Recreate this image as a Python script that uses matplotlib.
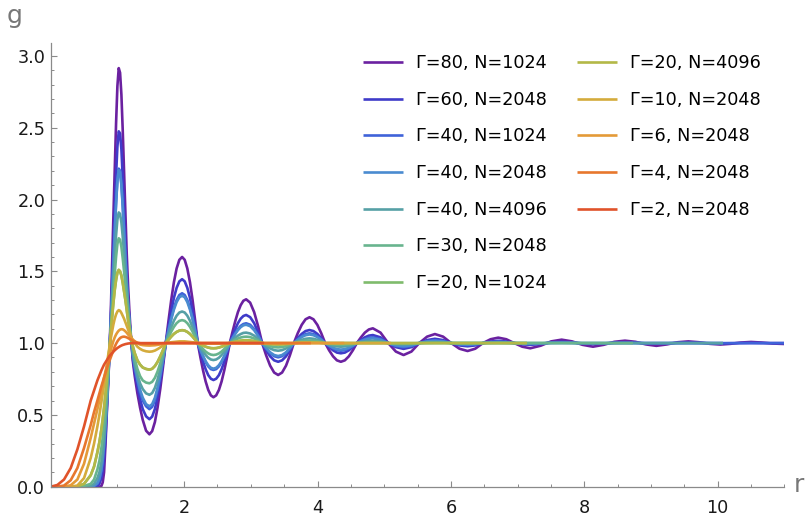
import matplotlib
matplotlib.use("Agg")
import matplotlib.pyplot as plt
from matplotlib.lines import Line2D
from matplotlib.ticker import MultipleLocator, FormatStrFormatter

plt.rcParams['font.family'] = ['DejaVu Sans']

# r grid shared by every curve (each curve uses a prefix of it)
r_grid = [0, 0.1, 0.2, 0.3, 0.4, 0.5, 0.6, 0.65, 0.7, 0.73,
          0.76, 0.78, 0.8, 0.82, 0.84, 0.86, 0.88, 0.9, 0.92, 0.94,
          0.96, 0.98, 1.0, 1.02, 1.04, 1.06, 1.08, 1.1, 1.12, 1.14,
          1.16, 1.18, 1.2, 1.23, 1.26, 1.3, 1.34, 1.38, 1.43, 1.48,
          1.521, 1.562, 1.602, 1.643, 1.684, 1.725, 1.766, 1.807, 1.847, 1.888, 1.929, 1.97,
          2.009, 2.048, 2.088, 2.127, 2.166, 2.205, 2.244, 2.283, 2.323, 2.362, 2.401, 2.44,
          2.481, 2.522, 2.562, 2.603, 2.644, 2.685, 2.726, 2.767, 2.807, 2.848, 2.889, 2.93,
          2.99, 3.05, 3.11, 3.17, 3.23, 3.29, 3.35, 3.41,
          3.469, 3.528, 3.586, 3.645, 3.704, 3.763, 3.821, 3.88,
          3.939, 3.998, 4.056, 4.115, 4.174, 4.233, 4.291, 4.35,
          4.41, 4.47, 4.53, 4.59, 4.65, 4.71, 4.77, 4.83,
          4.945, 5.06, 5.175, 5.29, 5.408, 5.525, 5.643, 5.76,
          5.883, 6.005, 6.128, 6.25, 6.365, 6.48, 6.595, 6.71,
          6.83, 6.95, 7.07, 7.19,
          7.347, 7.503, 7.66, 7.817, 7.973, 8.13, 8.29, 8.45, 8.61,
          8.767, 8.923, 9.08, 9.24, 9.40, 9.56, 9.72, 9.88, 10.04,
          10.193, 10.347, 10.5, 10.66, 10.82, 11.0]

g80 = [0, 0, 0, 0, 0, 0, 0, 0, 0, 0,
       0.005, 0.03, 0.1, 0.28, 0.5, 0.7, 0.92, 1.2, 1.55, 1.88,
       2.2, 2.53, 2.79, 2.915, 2.883, 2.73, 2.48, 2.19, 1.89, 1.62,
       1.4, 1.22, 1.07, 0.88, 0.77, 0.65, 0.55, 0.465, 0.39, 0.365,
       0.387, 0.45, 0.551, 0.683, 0.836, 1.0, 1.155, 1.3, 1.424, 1.52, 1.58, 1.6,
       1.58, 1.52, 1.424, 1.3, 1.155, 1.0, 0.902, 0.812, 0.733, 0.674, 0.636, 0.623,
       0.636, 0.674, 0.733, 0.812, 0.902, 1.0, 1.079, 1.153, 1.216, 1.264, 1.295, 1.305,
       1.282, 1.216, 1.117, 1.0, 0.915, 0.843, 0.795, 0.778,
       0.795, 0.843, 0.915, 1.0, 1.069, 1.127, 1.166, 1.18,
       1.166, 1.127, 1.069, 1.0, 0.95, 0.908, 0.88, 0.87,
       0.88, 0.908, 0.95, 1.0, 1.039, 1.073, 1.095, 1.103,
       1.073, 1.0, 0.941, 0.917, 0.941, 1.0, 1.045, 1.063,
       1.045, 1.0, 0.961, 0.945, 0.961, 1.0, 1.027, 1.038,
       1.027, 1.0, 0.975, 0.964,
       0.982, 1.012, 1.024, 1.012, 0.988, 0.975, 0.988, 1.009, 1.017,
       1.009, 0.991, 0.981, 0.991, 1.006, 1.012, 1.006, 0.995, 0.99,
       0.995, 1.004, 1.008, 1.004, 0.997, 0.994]

g60 = [0, 0, 0, 0, 0, 0, 0, 0, 0.005, 0.02,
       0.06, 0.11, 0.2, 0.33, 0.52, 0.72, 0.92, 1.15, 1.4, 1.67,
       1.93, 2.17, 2.37, 2.475, 2.46, 2.35, 2.15, 1.92, 1.68, 1.47,
       1.3, 1.16, 1.05, 0.9, 0.8, 0.7, 0.61, 0.54, 0.49, 0.47,
       0.488, 0.541, 0.625, 0.735, 0.863, 1.0, 1.115, 1.223, 1.315, 1.385, 1.43, 1.445,
       1.43, 1.385, 1.315, 1.223, 1.115, 1.0, 0.933, 0.872, 0.818, 0.777, 0.752, 0.743,
       0.752, 0.777, 0.818, 0.872, 0.933, 1.0, 1.051, 1.098, 1.139, 1.17, 1.189, 1.196,
       1.181, 1.139, 1.075, 1.0, 0.95, 0.908, 0.88, 0.87,
       0.88, 0.908, 0.95, 1.0, 1.035, 1.064, 1.084, 1.091,
       1.084, 1.064, 1.035, 1.0, 0.973, 0.95, 0.934, 0.929,
       0.934, 0.95, 0.973, 1.0, 1.021, 1.04, 1.052, 1.056,
       1.04, 1.0, 0.972, 0.96, 0.972, 1.0, 1.021, 1.03,
       1.021, 1.0, 0.984, 0.978, 0.984, 1.0, 1.011, 1.016,
       1.011, 1.0, 0.992, 0.988,
       0.994, 1.005, 1.009, 1.005, 0.997, 0.993, 0.997, 1.003, 1.005,
       1.003, 0.998, 0.996, 0.998, 1.002, 1.003, 1.002, 0.999, 0.998,
       0.999, 1.0, 1.001, 1.0, 1.0, 1.0]

g40_1024 = [0, 0, 0, 0, 0, 0, 0, 0.005, 0.02, 0.05,
            0.11, 0.18, 0.28, 0.41, 0.56, 0.74, 0.93, 1.13, 1.35, 1.57,
            1.78, 1.98, 2.14, 2.215, 2.2, 2.11, 1.96, 1.78, 1.6, 1.43,
            1.28, 1.15, 1.05, 0.92, 0.83, 0.74, 0.66, 0.6, 0.56, 0.54,
            0.556, 0.602, 0.675, 0.77, 0.881, 1.0, 1.09, 1.174, 1.245, 1.3, 1.335, 1.347,
            1.335, 1.3, 1.245, 1.174, 1.09, 1.0, 0.952, 0.907, 0.868, 0.838, 0.819, 0.813,
            0.819, 0.838, 0.868, 0.907, 0.952, 1.0, 1.036, 1.069, 1.098, 1.12, 1.133, 1.138,
            1.128, 1.098, 1.053, 1.0, 0.962, 0.93, 0.909, 0.901,
            0.909, 0.93, 0.962, 1.0, 1.026, 1.048, 1.063, 1.068,
            1.063, 1.048, 1.026, 1.0, 0.98, 0.963, 0.951, 0.947,
            0.951, 0.963, 0.98, 1.0, 1.015, 1.028, 1.037, 1.04,
            1.028, 1.0, 0.98, 0.972, 0.98, 1.0, 1.014, 1.02,
            1.014, 1.0, 0.99, 0.986, 0.99, 1.0, 1.007, 1.01,
            1.007, 1.0, 0.995, 0.993,
            0.996, 1.003, 1.005, 1.003, 0.998, 0.997, 0.998, 1.001, 1.002,
            1.001, 1.0, 1.0]

g40_2048 = [0, 0, 0, 0, 0, 0, 0, 0.006, 0.025, 0.055,
            0.12, 0.19, 0.29, 0.42, 0.57, 0.745, 0.93, 1.13, 1.34, 1.56,
            1.77, 1.97, 2.13, 2.205, 2.19, 2.1, 1.95, 1.77, 1.59, 1.42,
            1.27, 1.15, 1.05, 0.925, 0.84, 0.75, 0.675, 0.62, 0.575, 0.56,
            0.575, 0.619, 0.689, 0.78, 0.886, 1.0, 1.085, 1.165, 1.233, 1.286, 1.319, 1.33,
            1.319, 1.286, 1.233, 1.165, 1.085, 1.0, 0.954, 0.911, 0.874, 0.846, 0.828, 0.822,
            0.828, 0.846, 0.874, 0.911, 0.954, 1.0, 1.033, 1.064, 1.09, 1.111, 1.124, 1.128,
            1.118, 1.09, 1.049, 1.0, 0.966, 0.936, 0.917, 0.91,
            0.917, 0.936, 0.966, 1.0, 1.023, 1.042, 1.055, 1.06,
            1.055, 1.042, 1.023, 1.0, 0.983, 0.968, 0.958, 0.955,
            0.958, 0.968, 0.983, 1.0, 1.013, 1.023, 1.03, 1.033,
            1.023, 1.0, 0.984, 0.978, 0.984, 1.0, 1.011, 1.015,
            1.011, 1.0, 0.993, 0.99, 0.993, 1.0, 1.005, 1.007,
            1.005, 1.0, 0.997, 0.996,
            0.998, 1.001, 1.002, 1.001, 1.0, 1.0]

g40_4096 = [0, 0, 0, 0, 0, 0, 0.005, 0.02, 0.06, 0.1,
            0.17, 0.24, 0.33, 0.45, 0.59, 0.75, 0.92, 1.09, 1.27, 1.44,
            1.6, 1.75, 1.86, 1.91, 1.9, 1.84, 1.74, 1.62, 1.49, 1.37,
            1.25, 1.14, 1.05, 0.94, 0.86, 0.78, 0.72, 0.68, 0.65, 0.64,
            0.652, 0.688, 0.745, 0.82, 0.907, 1.0, 1.057, 1.11, 1.156, 1.191, 1.213, 1.22,
            1.213, 1.191, 1.156, 1.11, 1.057, 1.0, 0.969, 0.941, 0.917, 0.898, 0.886, 0.882,
            0.886, 0.898, 0.917, 0.941, 0.969, 1.0, 1.019, 1.037, 1.052, 1.063, 1.071, 1.073,
            1.067, 1.052, 1.028, 1.0, 0.98, 0.963, 0.951, 0.947,
            0.951, 0.963, 0.98, 1.0, 1.013, 1.023, 1.03, 1.033,
            1.03, 1.023, 1.013, 1.0, 0.99, 0.982, 0.977, 0.975,
            0.977, 0.982, 0.99, 1.0, 1.006, 1.011, 1.015, 1.016,
            1.011, 1.0, 0.993, 0.99, 0.993, 1.0, 1.004, 1.006,
            1.004, 1.0, 0.997, 0.996, 0.997, 1.0, 1.001, 1.002,
            1.001, 1.0]

g30 = [0, 0, 0, 0, 0, 0.005, 0.02, 0.05, 0.12, 0.18,
       0.27, 0.34, 0.43, 0.53, 0.65, 0.79, 0.93, 1.07, 1.21, 1.35,
       1.48, 1.6, 1.69, 1.73, 1.72, 1.67, 1.59, 1.5, 1.4, 1.31,
       1.22, 1.13, 1.05, 0.96, 0.89, 0.82, 0.77, 0.74, 0.725, 0.72,
       0.73, 0.758, 0.802, 0.86, 0.928, 1.0, 1.041, 1.08, 1.113, 1.139, 1.155, 1.16,
       1.155, 1.139, 1.113, 1.08, 1.041, 1.0, 0.979, 0.959, 0.941, 0.928, 0.92, 0.917,
       0.92, 0.928, 0.941, 0.959, 0.979, 1.0, 1.012, 1.023, 1.032, 1.039, 1.043, 1.045,
       1.042, 1.032, 1.017, 1.0, 0.989, 0.979, 0.972, 0.97,
       0.972, 0.979, 0.989, 1.0, 1.007, 1.013, 1.017, 1.018,
       1.017, 1.013, 1.007, 1.0, 0.995, 0.992, 0.989, 0.988,
       0.989, 0.992, 0.995, 1.0, 1.003, 1.005, 1.006, 1.007,
       1.005, 1.0, 0.997, 0.996, 0.997, 1.0, 1.001, 1.002]

g20 = [0, 0, 0, 0, 0.003, 0.02, 0.08, 0.14, 0.24, 0.31,
       0.4, 0.47, 0.55, 0.64, 0.74, 0.85, 0.96, 1.07, 1.18, 1.28,
       1.37, 1.44, 1.49, 1.51, 1.5, 1.47, 1.42, 1.36, 1.3, 1.23,
       1.16, 1.1, 1.05, 0.98, 0.93, 0.88, 0.85, 0.83, 0.82, 0.815,
       0.821, 0.84, 0.869, 0.908, 0.952, 1.0, 1.023, 1.045, 1.064, 1.078, 1.087, 1.09,
       1.087, 1.078, 1.064, 1.045, 1.023, 1.0, 0.991, 0.982, 0.975, 0.969, 0.965, 0.964,
       0.965, 0.969, 0.975, 0.982, 0.991, 1.0, 1.005, 1.01, 1.014, 1.017, 1.019, 1.02,
       1.018, 1.014, 1.008, 1.0, 0.996, 0.993, 0.991, 0.99,
       0.991, 0.993, 0.996, 1.0, 1.002, 1.004, 1.005, 1.005,
       1.005, 1.004, 1.002, 1.0]

g10 = [0, 0, 0, 0, 0.008, 0.06, 0.2, 0.3, 0.42, 0.5,
       0.59, 0.65, 0.71, 0.77, 0.84, 0.91, 0.97, 1.03, 1.08, 1.13,
       1.17, 1.2, 1.22, 1.23, 1.225, 1.21, 1.19, 1.17, 1.145, 1.12,
       1.095, 1.07, 1.05, 1.02, 1.0, 0.975, 0.96, 0.95, 0.943, 0.94,
       0.942, 0.948, 0.958, 0.97, 0.984, 1.0, 1.003, 1.006, 1.008, 1.01, 1.012, 1.012,
       1.012, 1.01, 1.008, 1.006, 1.003, 1.0, 0.999, 0.998, 0.998, 0.997, 0.997, 0.997,
       0.997, 0.997, 0.998, 0.998, 0.999, 1.0]

g6 = [0, 0, 0, 0.01, 0.05, 0.16, 0.34, 0.44, 0.54, 0.6,
      0.67, 0.71, 0.76, 0.8, 0.84, 0.88, 0.92, 0.95, 0.985, 1.015,
      1.04, 1.06, 1.075, 1.087, 1.094, 1.097, 1.096, 1.09, 1.082, 1.072,
      1.06, 1.05, 1.04, 1.025, 1.013, 1.0, 0.99, 0.986, 0.984, 0.983,
      0.984, 0.985, 0.988, 0.991, 0.996, 1.0, 1.001, 1.001, 1.001, 1.002, 1.002, 1.002,
      1.002, 1.002, 1.001, 1.001, 1.0, 1.0]

g4 = [0, 0, 0.008, 0.045, 0.13, 0.27, 0.43, 0.52, 0.6, 0.65,
      0.7, 0.73, 0.76, 0.79, 0.82, 0.85, 0.875, 0.9, 0.925, 0.95,
      0.975, 0.995, 1.012, 1.025, 1.035, 1.041, 1.044, 1.045, 1.043, 1.04,
      1.035, 1.03, 1.025, 1.017, 1.01, 1.003, 0.999, 0.997, 0.996, 0.996,
      0.996, 0.997, 0.997, 0.998, 0.999, 1.0]

g2 = [0, 0.012, 0.05, 0.13, 0.26, 0.42, 0.6, 0.67, 0.74, 0.775,
      0.81, 0.83, 0.85, 0.865, 0.88, 0.895, 0.91, 0.92, 0.93, 0.94,
      0.95, 0.958, 0.966, 0.972, 0.978, 0.983, 0.987, 0.99, 0.993, 0.995,
      0.997, 0.998, 0.999, 1.0]

series = [g80, g60, g40_1024, g40_2048, g40_4096, g30, g20, g20, g10, g6, g4, g2]
r_end = [11.0, 11.0, 11.0, 10.08, 10.08, 8.73, 7.14, 7.14, 5.1, 4.4, 3.9, 3.2]
labels = ["Γ=80, N=1024", "Γ=60, N=2048", "Γ=40, N=1024", "Γ=40, N=2048",
          "Γ=40, N=4096", "Γ=30, N=2048", "Γ=20, N=1024", "Γ=20, N=4096",
          "Γ=10, N=2048", "Γ=6, N=2048", "Γ=4, N=2048", "Γ=2, N=2048"]
colors = ["#6b21a0", "#3f3bc9", "#3f63d9", "#4a8bd0", "#56a0a6", "#68b48e",
          "#7fbb6c", "#b3b847", "#d4ab3c", "#e49a38", "#e7772d", "#e0532a"]

fig = plt.figure(figsize=(8.05, 5.18), dpi=100)
ax = fig.add_axes([50.7 / 805, (518 - 486.7) / 518, (784.4 - 50.7) / 805, (486.7 - 43) / 518])

handles = []
for vals, re, lab, col in zip(series, r_end, labels, colors):
    rr = r_grid[:len(vals)]
    gg = list(vals)
    if re > rr[-1]:
        rr = rr + [re]
        gg = gg + [1.0]
    ln, = ax.plot(rr, gg, color=col, lw=1.9, label=lab,
                  solid_joinstyle='round', solid_capstyle='butt')
    handles.append(ln)

ax.set_xlim(0, 11.0)
ax.set_ylim(0, 3.09)
for s in ['top', 'right']:
    ax.spines[s].set_visible(False)
for s in ['left', 'bottom']:
    ax.spines[s].set_color('#8a8a8a')
    ax.spines[s].set_linewidth(0.9)

ax.set_xticks([2, 4, 6, 8, 10])
ax.xaxis.set_minor_locator(MultipleLocator(0.5))
ax.yaxis.set_major_locator(MultipleLocator(0.5))
ax.yaxis.set_minor_locator(MultipleLocator(0.1))
ax.yaxis.set_major_formatter(FormatStrFormatter('%.1f'))
ax.tick_params(which='major', direction='in', length=4.5, width=0.8, color='#8a8a8a',
               labelsize=12.7, labelcolor='#1a1a1a')
ax.tick_params(which='minor', direction='in', length=2.5, width=0.7, color='#8a8a8a')
ax.tick_params(axis='x', which='major', pad=8.5)
ax.tick_params(axis='y', which='major', pad=4)

fig.text(15 / 805, 1 - 16 / 518, 'g', fontsize=18, color='#777777', ha='center', va='center')
fig.text(799 / 805, 1 - 485 / 518, 'r', fontsize=18, color='#777777', ha='center', va='center')

blank = [Line2D([], [], alpha=0), Line2D([], [], alpha=0)]
ax.legend(handles + blank, labels + ['', ''], ncol=2, frameon=False, fontsize=12.7,
          loc='upper left', bbox_to_anchor=(363 / 805, 1 - 54 / 518),
          bbox_transform=fig.transFigure, borderpad=0, borderaxespad=0,
          handlelength=2.27, handletextpad=0.74, columnspacing=1.7, labelspacing=1.06)

fig.savefig('out.png', dpi=100)
